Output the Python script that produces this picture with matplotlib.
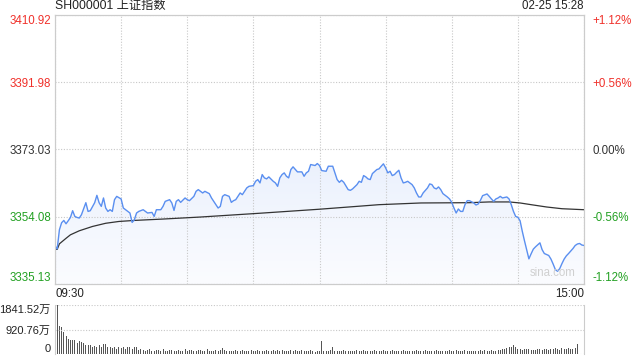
import numpy as np
import matplotlib
matplotlib.use("Agg")
import matplotlib.pyplot as plt
from matplotlib.colors import LinearSegmentedColormap
from matplotlib.patches import Polygon

plt.rcParams['font.family'] = ['Liberation Sans', 'Noto Sans CJK SC', 'DejaVu Sans']

# intraday price (minute index from 09:30, 241 slots)
price_minute = [0, 1, 2, 3, 4, 5, 6, 7, 8, 9, 10, 11, 12, 14, 15, 16, 18, 19, 20, 21,
                22, 23, 24, 25, 26, 27, 28, 30, 31, 33, 34, 35, 36, 37, 38, 40, 41, 42, 44, 45,
                46, 48, 49, 50, 52, 53, 54, 55, 56, 57, 59, 60, 61, 63, 64, 65, 66, 67, 68, 70,
                71, 73, 74, 75, 76, 77, 79, 80, 81, 82, 84, 85, 87, 88, 90, 91, 92, 93, 94, 95,
                96, 97, 99, 100, 101, 102, 103, 104, 105, 106, 107, 108, 110, 112, 113, 114, 115, 116, 118, 119,
                120, 121, 123, 124, 126, 127, 128, 129, 130, 131, 133, 134, 135, 137, 138, 139, 140, 141, 142, 143,
                144, 146, 147, 148, 149, 150, 151, 152, 153, 154, 155, 156, 157, 158, 159, 160, 162, 163, 164, 165,
                166, 167, 169, 170, 171, 172, 173, 174, 175, 176, 178, 179, 180, 181, 182, 183, 184, 185, 186, 187,
                188, 190, 191, 192, 193, 194, 196, 197, 198, 199, 200, 201, 202, 203, 205, 206, 207, 208, 209, 210,
                211, 212, 213, 214, 215, 216, 217, 218, 219, 220, 221, 222, 223, 224, 225, 226, 227, 228, 229, 230,
                231, 232, 233, 234, 235, 236, 237, 238, 239, 240]
price_value = [3345.88, 3345.03, 3350.41, 3352.39, 3353.04, 3352.10, 3352.95, 3353.88, 3355.78, 3354.17,
               3353.88, 3353.71, 3354.65, 3358.04, 3355.58, 3355.78, 3358.04, 3360.11, 3358.04, 3357.00,
               3359.37, 3356.54, 3355.58, 3356.06, 3355.58, 3358.89, 3359.82, 3359.09, 3356.54, 3355.58,
               3355.13, 3352.47, 3353.23, 3355.13, 3355.58, 3356.06, 3355.58, 3355.13, 3355.30, 3354.17,
               3356.06, 3356.06, 3357.00, 3358.41, 3358.89, 3357.96, 3355.86, 3358.41, 3358.89, 3358.13,
               3359.37, 3358.89, 3358.61, 3359.82, 3361.24, 3361.72, 3361.24, 3360.78, 3361.24, 3360.59,
               3359.37, 3357.48, 3356.54, 3357.00, 3359.82, 3360.30, 3359.82, 3358.13, 3358.61, 3358.89,
               3360.78, 3360.30, 3362.20, 3362.65, 3362.85, 3364.07, 3364.55, 3363.61, 3365.96, 3365.03,
               3364.74, 3365.31, 3364.07, 3363.61, 3362.65, 3365.03, 3365.96, 3366.44, 3365.48, 3365.03,
               3367.37, 3368.14, 3366.72, 3366.72, 3365.48, 3366.44, 3366.89, 3368.79, 3368.51, 3369.07,
               3368.51, 3367.09, 3366.89, 3368.31, 3368.31, 3366.44, 3364.55, 3363.78, 3364.35, 3363.78,
               3361.72, 3361.52, 3361.92, 3363.13, 3364.07, 3363.78, 3365.68, 3365.31, 3364.74, 3364.55,
               3366.24, 3367.37, 3367.57, 3368.31, 3368.99, 3367.85, 3366.44, 3366.89, 3365.68, 3365.96,
               3366.61, 3367.18, 3365.03, 3363.61, 3363.78, 3364.07, 3363.13, 3362.20, 3360.78, 3359.65,
               3359.65, 3360.78, 3362.20, 3363.33, 3363.13, 3362.20, 3361.92, 3362.48, 3361.72, 3360.59,
               3359.65, 3359.09, 3358.13, 3356.54, 3355.13, 3356.26, 3355.58, 3355.58, 3357.48, 3358.61,
               3358.61, 3357.96, 3357.39, 3357.67, 3358.69, 3360.02, 3360.50, 3359.82, 3359.09, 3358.41,
               3359.09, 3359.37, 3359.82, 3359.37, 3359.65, 3359.09, 3357.48, 3355.58, 3354.17, 3353.94,
               3352.95, 3349.98, 3347.30, 3344.76, 3342.21, 3343.63, 3344.95, 3345.60, 3346.17, 3346.73,
               3344.80, 3343.72, 3343.43, 3343.16, 3342.16, 3340.75, 3339.20, 3338.71, 3339.48, 3340.89,
               3342.16, 3343.07, 3343.72, 3344.42, 3345.13, 3345.98, 3346.40, 3346.55, 3346.12, 3345.98]

# average price line
avg_minute = [0, 1, 2, 5, 7, 11, 17, 23, 29, 36, 49, 66, 93, 120, 138, 147, 166, 188, 197, 206,
              211, 216, 223, 230, 240]
avg_value = [3345.03, 3344.89, 3346.45, 3348.00, 3348.99, 3350.12, 3351.34, 3352.24, 3352.75, 3353.04,
             3353.43, 3354.00, 3355.07, 3356.20, 3357.05, 3357.48, 3357.96, 3358.04, 3358.25, 3358.25,
             3357.96, 3357.48, 3356.83, 3356.34, 3356.06]

# per-minute volume (万)
volume = [600, 1841, 1050, 1000, 830, 665, 575, 540, 510, 510, 420, 485, 450, 410, 345, 320, 320, 280, 295, 280,
          320, 256, 360, 360, 256, 280, 230, 256, 190, 256, 230, 256, 190, 256, 256, 190, 280, 280, 150, 190,
          140, 120, 160, 180, 130, 110, 150, 140, 120, 170, 130, 110, 140, 160, 120, 100, 150, 130, 120, 170,
          110, 140, 160, 120, 100, 140, 150, 110, 130, 170, 120, 100, 130, 150, 120, 160, 230, 140, 110, 120,
          100, 130, 150, 110, 120, 160, 130, 100, 120, 140, 110, 130, 160, 120, 100, 130, 150, 110, 120, 140,
          100, 140, 120, 150, 110, 100, 130, 160, 120, 140, 110, 100, 150, 130, 110, 120, 140, 100, 90, 110,
          120, 486, 120, 130, 110, 140, 256, 130, 120, 100, 120, 140, 110, 100, 130, 120, 100, 150, 110, 120,
          140, 110, 100, 130, 120, 150, 110, 100, 120, 140, 130, 100, 110, 150, 120, 130, 100, 110, 140, 120,
          100, 130, 110, 120, 140, 110, 100, 120, 150, 130, 100, 110, 120, 140, 100, 110, 130, 120, 100, 140,
          110, 120, 150, 130, 100, 120, 140, 110, 130, 120, 100, 110, 130, 140, 120, 150, 110, 100, 140, 130,
          120, 140, 150, 170, 190, 220, 256, 280, 320, 250, 200, 180, 150, 170, 200, 190, 160, 140, 150, 170,
          180, 160, 200, 190, 150, 170, 200, 230, 180, 160, 220, 190, 200, 230, 180, 170, 230, 384, 0, 0,
          540]

price_levels = [3335.13, 3354.08, 3373.03, 3391.98, 3410.92]
price_labels = ['3335.13', '3354.08', '3373.03', '3391.98', '3410.92']
pct_labels = ['-1.12%', '-0.56%', '0.00%', '+0.56%', '+1.12%']
level_colors = ['#22a022', '#22a022', '#333333', '#f0302a', '#f0302a']
vol_levels = [0, 920.76, 1841.52]
vol_labels = ['0', '920.76万', '1841.52万']
time_ticks = [0, 30, 60, 90, 120, 150, 180, 210, 240]
time_labels = ['09:30', '', '', '', '', '', '', '', '15:00']

grid_kw = dict(color='#c8c8c8', linestyle=(0, (1, 1.5)), linewidth=0.8)
spine_color = '#cccccc'

fig = plt.figure(figsize=(6.4, 3.6), dpi=100)
ax = fig.add_axes([55 / 640, 1 - 284 / 360, 529 / 640, 269 / 360])
axv = fig.add_axes([55 / 640, 1 - 354 / 360, 529 / 640, 49 / 360])

ylo, yhi = price_levels[0], price_levels[-1]
ax.set_xlim(0, 240)
ax.set_ylim(ylo, yhi)

# gradient fill under the price line
cmap = LinearSegmentedColormap.from_list('fill', ['#fbfcff', '#d8e4fa'])
grad = np.linspace(0, 1, 256).reshape(-1, 1)
img = ax.imshow(grad, extent=[0, 240, ylo, yhi], aspect='auto', cmap=cmap,
                origin='lower', zorder=1)
verts = [(price_minute[0], ylo)] + list(zip(price_minute, price_value)) + [(price_minute[-1], ylo)]
patch = Polygon(verts, closed=True, facecolor='none', edgecolor='none')
ax.add_patch(patch)
img.set_clip_path(patch)

ax.plot(avg_minute, avg_value, color='#333333', lw=0.9, zorder=3)
ax.plot(price_minute, price_value, color='#5a8ff0', lw=1.0, zorder=4)

ax.set_yticks(price_levels)
ax.set_yticklabels(price_labels)
ax.set_xticks(time_ticks)
ax.set_xticklabels(time_labels)
ax.grid(True, **grid_kw)
ax.tick_params(length=0, labelsize=8.3, pad=3)
for lab, c in zip(ax.get_yticklabels(), level_colors):
    lab.set_color(c)
ax.get_yticklabels()[0].set_va('bottom')
ax.get_yticklabels()[-1].set_va('top')
xl = ax.get_xticklabels()
xl[0].set_ha('left')
xl[-1].set_ha('right')
for lab in xl:
    lab.set_color('#222222')

ax2 = ax.twinx()
ax2.set_ylim(ylo, yhi)
ax2.set_yticks(price_levels)
ax2.set_yticklabels(pct_labels)
ax2.tick_params(length=0, labelsize=8.3, pad=6)
for lab, c in zip(ax2.get_yticklabels(), level_colors):
    lab.set_color(c)
ax2.get_yticklabels()[0].set_va('bottom')
ax2.get_yticklabels()[-1].set_va('top')

for a in (ax, ax2):
    for s in a.spines.values():
        s.set_color(spine_color)
        s.set_linewidth(0.8)

ax.text(0, 1.01, 'SH000001 上证指数', transform=ax.transAxes, ha='left', va='bottom',
        fontsize=8.8, color='#222222')
ax.text(1, 1.01, '02-25 15:28', transform=ax.transAxes, ha='right', va='bottom',
        fontsize=8.3, color='#222222')
ax.text(0.985, 0.02, 'sina.com', transform=ax.transAxes, ha='right', va='bottom',
        fontsize=8.3, color='#d0d0d0', zorder=5)

# volume panel
axv.bar(np.arange(len(volume)), volume, width=0.45, color='#555555', linewidth=0)
axv.set_xlim(0, 240)
axv.set_ylim(0, vol_levels[-1])
axv.set_yticks(vol_levels)
axv.set_yticklabels(vol_labels)
axv.set_xticks([])
axv.yaxis.grid(True, **grid_kw)
axv.tick_params(length=0, labelsize=8, pad=3)
vl = axv.get_yticklabels()
vl[0].set_va('bottom')
vl[-1].set_va('top')
for lab in vl:
    lab.set_color('#222222')
for side in ('top', 'bottom'):
    axv.spines[side].set_visible(False)
for side in ('left', 'right'):
    axv.spines[side].set_color(spine_color)
    axv.spines[side].set_linewidth(0.8)

fig.savefig('out.png', dpi=100)
